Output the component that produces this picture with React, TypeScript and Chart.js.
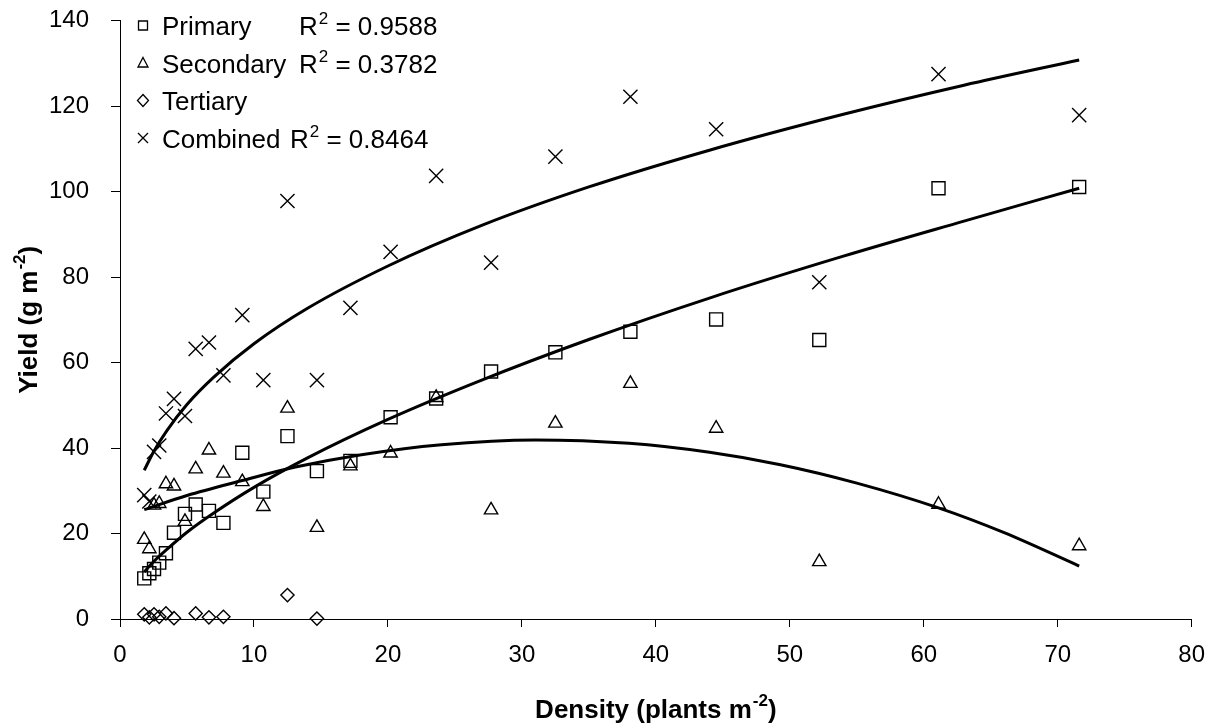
import React, { useEffect, useRef } from "react";
import { Chart, registerables } from "chart.js";

Chart.register(...registerables);

const density = [1.81, 2.19, 2.54, 2.93, 3.43, 4.03, 4.85, 5.65, 6.64, 7.72, 9.13, 10.7, 12.5, 14.7, 17.2, 20.2, 23.6, 27.7, 32.5, 38.1, 44.5, 52.2, 61.1, 71.6];
const primary = [9.5, 10.7, 11.7, 13.2, 15.4, 20.2, 24.6, 26.8, 25.3, 22.5, 38.9, 29.8, 42.8, 34.6, 37.0, 47.2, 51.6, 57.9, 62.4, 67.2, 70.1, 65.3, 100.8, 101.1];
const secondary = [18.6, 16.4, 26.6, 27.0, 31.6, 31.1, 22.8, 35.1, 39.5, 34.1, 32.1, 26.3, 49.3, 21.4, 35.8, 38.8, 51.8, 25.5, 45.8, 55.1, 44.6, 13.4, 26.8, 17.1];
const tertiaryDensity = [1.81, 2.19, 2.54, 2.93, 3.43, 4.03, 5.65, 6.64, 7.72, 12.5, 14.7];
const tertiary = [1.1, 0.4, 1.1, 0.5, 1.3, 0.2, 1.3, 0.4, 0.5, 5.6, 0.1];
const combined = [29.0, 27.5, 39.1, 40.6, 48.1, 51.5, 47.5, 63.2, 64.7, 57.0, 71.1, 55.9, 97.8, 55.9, 72.8, 85.9, 103.7, 83.4, 108.2, 122.2, 114.6, 78.8, 127.5, 117.9];

// trendlines
const primaryTrendX = [1.81, 2.5, 3.5, 5, 7, 10, 14, 20, 27, 35, 44, 54, 63, 71.6];
const primaryTrendY = [11.0, 13.4, 16.3, 20.3, 24.8, 30.8, 37.7, 46.7, 55.9, 65.4, 75.1, 84.9, 93.1, 100.8];
const secondaryTrendX = [1.81, 5, 9.13, 13, 17.9, 24, 31, 38, 44, 49.3, 55, 61.1, 66, 71.6];
const secondaryTrendY = [25.6, 28.9, 32.4, 35.5, 38.4, 40.8, 41.9, 41.1, 39.0, 36.1, 31.8, 26.0, 20.2, 12.4];
const combinedTrendX = [1.81, 2.5, 3.5, 5, 7, 10, 14, 20, 27, 35, 44, 54, 63, 71.6];
const combinedTrendY = [34.8, 39.1, 44.1, 50.2, 56.6, 64.4, 72.7, 82.6, 92.1, 101.1, 109.7, 118.1, 124.9, 130.8];

const xTicks = [0, 10, 20, 30, 40, 50, 60, 70, 80];
const yTicks = [0, 20, 40, 60, 80, 100, 120, 140];

const legendLabels = ["Primary", "Secondary", "Tertiary", "Combined"];
const legendR2 = ["0.9588", "0.3782", "", "0.8464"];

const FONT = "'Liberation Sans', Arial, sans-serif";

const pts = (xs: number[], ys: number[]) => xs.map((x, i) => ({ x, y: ys[i] }));

function drawSupText(
  ctx: CanvasRenderingContext2D,
  parts: [string, string, string],
  x: number,
  y: number,
  mainFont: string,
  supFont: string,
  raise: number,
  align: "center" | "left"
) {
  ctx.font = mainFont;
  const w1 = ctx.measureText(parts[0]).width;
  const w3 = ctx.measureText(parts[2]).width;
  ctx.font = supFont;
  const w2 = ctx.measureText(parts[1]).width;
  const total = w1 + w2 + w3 + 1;
  let sx = align === "center" ? x - total / 2 : x;
  ctx.textAlign = "left";
  ctx.textBaseline = "alphabetic";
  ctx.font = mainFont;
  ctx.fillText(parts[0], sx, y);
  sx += w1 + 1;
  ctx.font = supFont;
  ctx.fillText(parts[1], sx, y - raise);
  sx += w2;
  ctx.font = mainFont;
  ctx.fillText(parts[2], sx, y);
}

const overlayPlugin = {
  id: "overlay",
  afterDraw(chart: any) {
    const ctx: CanvasRenderingContext2D = chart.ctx;
    const area = chart.chartArea;
    ctx.save();
    ctx.fillStyle = "#000";
    ctx.strokeStyle = "#000";
    // x title
    drawSupText(ctx, ["Density (plants m", "-2", ")"], (area.left + area.right) / 2, 718, `bold 26px ${FONT}`, `bold 17px ${FONT}`, 12, "center");
    // y title
    ctx.save();
    ctx.translate(37, (area.top + area.bottom) / 2);
    ctx.rotate(-Math.PI / 2);
    drawSupText(ctx, ["Yield (g m", "-2", ")"], 0, 0, `bold 26px ${FONT}`, `bold 17px ${FONT}`, 12, "center");
    ctx.restore();

    // legend
    const baselines = [35, 72.5, 110, 147.5];
    const r2x = [299, 299, 299, 290];
    ctx.lineWidth = 1.3;
    for (let i = 0; i < legendLabels.length; i++) {
      const by = baselines[i];
      const mx = 143;
      const my = by - 9.5;
      ctx.beginPath();
      if (i === 0) {
        ctx.rect(mx - 4.5, my - 4.5, 9, 9);
      } else if (i === 1) {
        ctx.moveTo(mx, my - 5.5);
        ctx.lineTo(mx + 5, my + 4);
        ctx.lineTo(mx - 5, my + 4);
        ctx.closePath();
      } else if (i === 2) {
        ctx.moveTo(mx, my - 6);
        ctx.lineTo(mx + 5.5, my);
        ctx.lineTo(mx, my + 6);
        ctx.lineTo(mx - 5.5, my);
        ctx.closePath();
      } else {
        ctx.moveTo(mx - 5, my - 5);
        ctx.lineTo(mx + 5, my + 5);
        ctx.moveTo(mx + 5, my - 5);
        ctx.lineTo(mx - 5, my + 5);
      }
      ctx.stroke();
      ctx.font = `26px ${FONT}`;
      ctx.textAlign = "left";
      ctx.textBaseline = "alphabetic";
      ctx.fillText(legendLabels[i], 162, by);
      if (legendR2[i]) {
        drawSupText(ctx, ["R", "2", " = " + legendR2[i]], r2x[i], by, `26px ${FONT}`, `17px ${FONT}`, 11, "left");
      }
    }
    ctx.restore();
  },
};

export default function App() {
  const ref = useRef<HTMLCanvasElement | null>(null);
  useEffect(() => {
    if (!ref.current) return;
    const markerBase = {
      type: "scatter" as const,
      backgroundColor: "rgba(0,0,0,0)",
      borderColor: "#000",
      borderWidth: 1.4,
      pointBorderWidth: 1.4,
      clip: false as any,
    };
    const trendBase = {
      type: "line" as const,
      borderColor: "#000",
      borderWidth: 3,
      pointRadius: 0,
      fill: false,
      showLine: true,
      cubicInterpolationMode: "monotone" as const,
      clip: false as any,
    };
    const chart = new Chart(ref.current, {
      type: "scatter",
      data: {
        datasets: [
          { ...markerBase, label: "Primary", data: pts(density, primary), pointStyle: "rect", pointRadius: 9.2 },
          { ...markerBase, label: "Secondary", data: pts(density, secondary), pointStyle: "triangle", pointRadius: 7.7 },
          { ...markerBase, label: "Tertiary", data: pts(tertiaryDensity, tertiary), pointStyle: "rectRot", pointRadius: 6.6 },
          { ...markerBase, label: "Combined", data: pts(density, combined), pointStyle: "crossRot", pointRadius: 10 },
          { ...trendBase, label: "Primary trend", data: pts(primaryTrendX, primaryTrendY) },
          { ...trendBase, label: "Secondary trend", data: pts(secondaryTrendX, secondaryTrendY) },
          { ...trendBase, label: "Combined trend", data: pts(combinedTrendX, combinedTrendY) },
        ] as any,
      },
      options: {
        animation: false,
        responsive: true,
        maintainAspectRatio: false,
        layout: { padding: { top: 20.7, right: 25.3, left: 0, bottom: 0 } },
        plugins: { legend: { display: false }, tooltip: { enabled: false } },
        scales: {
          x: {
            type: "linear",
            min: 0,
            max: 80,
            afterBuildTicks: (s: any) => {
              s.ticks = xTicks.map((v) => ({ value: v }));
            },
            afterFit: (s: any) => {
              s.height = 109;
              s.paddingLeft = 0;
              s.paddingRight = 0;
            },
            ticks: { color: "#000", font: { family: FONT, size: 24 }, padding: 14, maxRotation: 0, autoSkip: false },
            grid: { display: true, drawOnChartArea: false, drawTicks: true, tickLength: 8, color: "#000", lineWidth: 1 },
            border: { display: true, color: "#000", width: 1 },
          },
          y: {
            type: "linear",
            min: 0,
            max: 140,
            afterBuildTicks: (s: any) => {
              s.ticks = yTicks.map((v) => ({ value: v }));
            },
            afterFit: (s: any) => {
              s.width = 120;
              s.paddingTop = 0;
              s.paddingBottom = 0;
            },
            ticks: { color: "#000", font: { family: FONT, size: 24 }, padding: 22, autoSkip: false },
            grid: { display: true, drawOnChartArea: false, drawTicks: true, tickLength: 9, color: "#000", lineWidth: 1 },
            border: { display: true, color: "#000", width: 1 },
          },
        },
      },
      plugins: [overlayPlugin],
    });
    return () => chart.destroy();
  }, []);
  return (
    <div style={{ position: "fixed", left: 0, top: 0, width: 1217, height: 728, background: "#fff" }}>
      <canvas ref={ref} />
    </div>
  );
}
